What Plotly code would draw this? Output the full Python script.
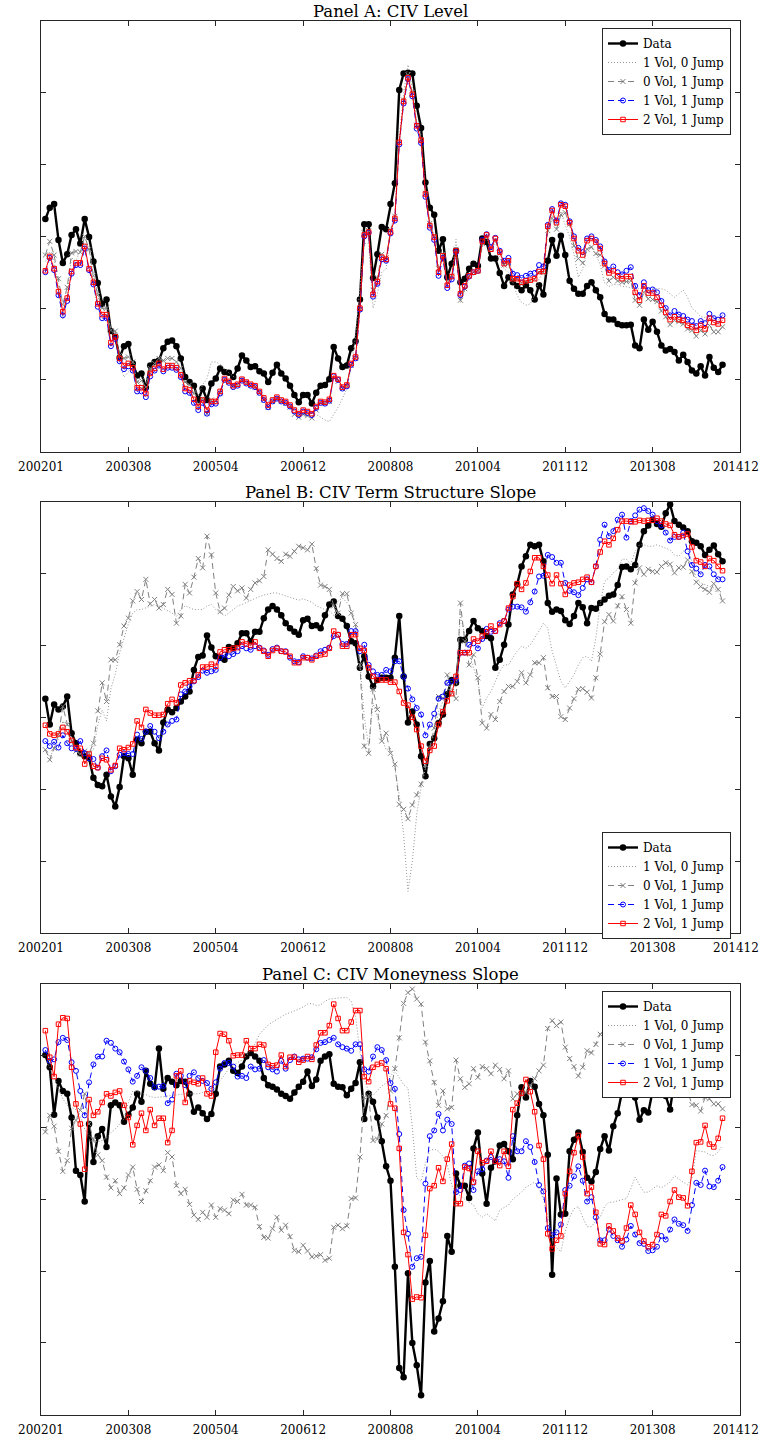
import plotly.graph_objects as go

# ---------------------------------------------------------------------------
# Monthly observations (index 1..156); y-units are arbitrary (no y labels)
# ---------------------------------------------------------------------------
tick_pos = [0, 20, 40, 60, 80, 100, 120, 140, 160]
tick_text = ["200201", "200308", "200504", "200612", "200808",
             "201004", "201112", "201308", "201412"]

series_names = ["Data", "1 Vol, 0 Jump", "0 Vol, 1 Jump", "1 Vol, 1 Jump", "2 Vol, 1 Jump"]

# ---------------- Panel A: CIV Level ----------------
A_data = [3.24, 3.40, 3.45, 2.95, 2.63, 2.75, 3.02, 3.10, 2.90, 3.24,
          2.99, 2.65, 2.35, 2.06, 2.12, 1.68, 1.60, 1.31, 1.47, 1.50,
          1.23, 1.06, 1.09, 0.89, 1.20, 1.25, 1.27, 1.44, 1.53, 1.55,
          1.47, 1.30, 1.04, 0.97, 0.92, 0.72, 0.88, 0.72, 0.95, 1.02,
          1.16, 1.11, 1.10, 1.04, 1.16, 1.34, 1.27, 1.18, 1.19, 1.12,
          1.09, 0.97, 1.10, 1.21, 1.09, 1.02, 0.92, 0.79, 0.69, 0.79,
          0.79, 0.67, 0.82, 0.92, 0.93, 1.01, 1.46, 1.30, 1.18, 1.20,
          1.44, 1.54, 2.12, 3.17, 3.17, 2.42, 2.75, 3.13, 3.10, 3.45,
          3.74, 5.04, 5.27, 5.28, 5.27, 4.82, 4.51, 3.75, 3.40, 3.30,
          2.80, 2.96, 2.43, 2.62, 2.80, 2.36, 2.41, 2.55, 2.62, 2.59,
          2.97, 2.92, 2.69, 2.69, 2.49, 2.31, 2.43, 2.36, 2.31, 2.25,
          2.32, 2.25, 2.12, 2.32, 2.19, 2.66, 2.95, 2.73, 3.01, 2.74,
          2.38, 2.27, 2.20, 2.20, 2.31, 2.36, 2.25, 2.15, 1.92, 1.84,
          1.84, 1.78, 1.76, 1.76, 1.77, 1.48, 1.44, 1.84, 1.70, 1.81,
          1.67, 1.48, 1.41, 1.43, 1.39, 1.27, 1.35, 1.25, 1.13, 1.09,
          1.19, 1.06, 1.32, 1.17, 1.11, 1.21]
A_v1j0 = [2.65, 2.78, 2.65, 2.30, 1.85, 2.22, 2.70, 2.66, 2.80, 2.89,
          2.85, 2.45, 2.20, 1.99, 1.99, 1.71, 1.64, 1.23, 1.04, 1.11,
          1.16, 0.97, 0.93, 0.97, 1.13, 1.22, 1.27, 1.25, 1.22, 1.21,
          1.16, 1.11, 0.97, 0.93, 0.88, 0.79, 0.93, 1.02, 1.25,
          1.25, 1.22, 1.15, 1.10, 1.05, 1.02, 1.03, 1.00, 0.96, 0.92,
          0.86, 0.78, 0.70, 0.74, 0.78, 0.75, 0.72, 0.68, 0.62, 0.58,
          0.60, 0.58, 0.55, 0.52, 0.48, 0.44, 0.42, 0.52, 0.62, 0.74,
          0.88, 1.20, 1.60, 2.30, 2.90, 2.90, 2.00, 2.20, 2.50, 2.55,
          3.10, 3.30, 4.35, 5.00, 5.39, 5.05, 4.60, 4.40, 3.65, 3.20,
          3.02, 2.55, 2.70, 2.30, 2.45, 2.96, 2.08, 2.25, 2.40, 2.48,
          2.50, 2.85, 2.98, 2.80, 2.92, 2.72, 2.55, 2.50, 2.36, 2.18,
          2.08, 2.04, 2.06, 2.18, 2.41, 2.50, 3.05, 3.30, 3.10, 3.35,
          3.15, 3.00, 2.75, 2.43, 2.55, 2.82, 2.86, 2.75, 2.60, 2.35,
          2.30, 2.33, 2.33, 2.30, 2.30, 2.28, 2.27, 2.27, 2.28, 2.28,
          2.28, 2.27, 2.27, 2.25, 2.20, 2.15, 2.20, 2.25, 2.15, 2.00,
          1.95, 1.88, 1.87, 1.90, 1.88, 1.84, 1.87]
A_v0j1 = [2.74, 2.93, 2.74, 2.41, 2.05, 2.29, 2.77, 2.79, 2.78, 3.00,
          2.82, 2.45, 2.18, 2.00, 2.00, 1.69, 1.68, 1.34, 1.30, 1.32,
          1.25, 0.97, 0.99, 0.90, 1.16, 1.23, 1.30, 1.27, 1.30, 1.30,
          1.25, 1.16, 0.97, 0.93, 0.81, 0.65, 0.74, 0.53, 0.72,
          0.70, 0.82, 1.00, 0.97, 0.92, 0.93, 1.00, 0.96, 0.92, 0.90,
          0.82, 0.72, 0.62, 0.70, 0.73, 0.70, 0.67, 0.62, 0.52, 0.48,
          0.52, 0.50, 0.47, 0.58, 0.68, 0.67, 0.70, 1.03, 0.98, 0.88,
          0.92, 1.20, 1.30, 1.98, 3.05, 3.08, 2.25, 2.42, 2.75, 2.70,
          3.08, 3.28, 4.30, 4.90, 5.25, 5.00, 4.55, 4.35, 3.60, 3.18,
          3.00, 2.55, 2.75, 2.36, 2.45, 2.82, 2.11, 2.27, 2.45, 2.50,
          2.52, 2.90, 3.00, 2.82, 2.95, 2.76, 2.60, 2.62, 2.40, 2.40,
          2.35, 2.37, 2.38, 2.40, 2.50, 2.50, 3.08, 3.25, 3.10, 3.30,
          3.33, 3.17, 2.87, 2.69, 2.63, 2.82, 2.85, 2.76, 2.74, 2.59,
          2.38, 2.43, 2.38, 2.36, 2.37, 2.38, 2.11, 2.04, 2.22, 2.13,
          2.12, 2.09, 1.96, 1.88, 1.77, 1.83, 1.81, 1.78, 1.71, 1.69,
          1.61, 1.69, 1.64, 1.76, 1.67, 1.67, 1.74]
A_v1j1 = [2.50, 2.70, 2.53, 2.18, 1.90, 2.10, 2.48, 2.60, 2.60, 2.83,
          2.53, 2.33, 2.02, 1.86, 1.86, 1.47, 1.57, 1.26, 1.15, 1.19,
          1.13, 0.84, 0.84, 0.76, 1.05, 1.13, 1.20, 1.12, 1.17, 1.17,
          1.14, 1.04, 0.84, 0.82, 0.68, 0.58, 0.68, 0.53, 0.66,
          0.67, 0.81, 1.00, 0.96, 0.90, 0.92, 0.99, 0.95, 0.92, 0.90,
          0.82, 0.72, 0.62, 0.70, 0.74, 0.70, 0.68, 0.63, 0.56, 0.51,
          0.56, 0.54, 0.51, 0.61, 0.68, 0.67, 0.71, 1.05, 1.00, 0.88,
          0.91, 1.21, 1.30, 1.98, 3.00, 3.05, 2.16, 2.34, 2.68, 2.66,
          3.04, 3.22, 4.28, 4.85, 5.19, 4.95, 4.50, 4.30, 3.55, 3.12,
          2.95, 2.45, 2.70, 2.28, 2.40, 2.78, 2.18, 2.30, 2.44, 2.50,
          2.52, 2.95, 3.03, 2.85, 2.98, 2.80, 2.66, 2.70, 2.48, 2.46,
          2.42, 2.45, 2.48, 2.49, 2.60, 2.58, 3.16, 3.38, 3.22, 3.46,
          3.44, 3.21, 3.00, 2.84, 2.78, 2.97, 3.00, 2.95, 2.86, 2.65,
          2.53, 2.58, 2.50, 2.47, 2.52, 2.57, 2.31, 2.18, 2.36, 2.25,
          2.26, 2.22, 2.10, 2.00, 1.90, 1.96, 1.91, 1.89, 1.84, 1.82,
          1.75, 1.82, 1.79, 1.92, 1.86, 1.84, 1.90]
A_v2j1 = [2.52, 2.72, 2.55, 2.23, 1.95, 2.14, 2.51, 2.63, 2.63, 2.86,
          2.55, 2.36, 2.06, 1.91, 1.91, 1.52, 1.60, 1.30, 1.20, 1.23,
          1.17, 0.89, 0.89, 0.81, 1.09, 1.16, 1.23, 1.15, 1.20, 1.20,
          1.17, 1.07, 0.88, 0.86, 0.73, 0.63, 0.72, 0.58, 0.70, 0.70,
          0.84, 1.02, 0.98, 0.92, 0.94, 1.01, 0.97, 0.94, 0.92, 0.84,
          0.75, 0.65, 0.72, 0.76, 0.72, 0.70, 0.65, 0.58, 0.53, 0.58,
          0.56, 0.53, 0.63, 0.70, 0.69, 0.73, 1.06, 1.01, 0.90, 0.93,
          1.23, 1.32, 2.00, 3.02, 3.06, 2.19, 2.37, 2.71, 2.68, 3.06,
          3.25, 4.31, 4.88, 5.21, 4.98, 4.54, 4.34, 3.59, 3.15, 2.99,
          2.50, 2.73, 2.32, 2.44, 2.80, 2.20, 2.31, 2.45, 2.50, 2.52,
          2.93, 3.02, 2.82, 2.97, 2.78, 2.62, 2.66, 2.41, 2.41, 2.36,
          2.38, 2.39, 2.41, 2.51, 2.51, 3.14, 3.36, 3.19, 3.44, 3.42,
          3.19, 2.97, 2.80, 2.74, 2.94, 2.97, 2.92, 2.83, 2.62, 2.49,
          2.52, 2.45, 2.41, 2.44, 2.44, 2.22, 2.11, 2.31, 2.21, 2.21,
          2.15, 2.04, 1.94, 1.84, 1.88, 1.84, 1.83, 1.76, 1.74, 1.69,
          1.76, 1.71, 1.86, 1.80, 1.78, 1.83]

# ---------------- Panel B: CIV Term Structure Slope ----------------
B_data = [3.26, 2.90, 3.18, 3.11, 3.15, 3.29, 2.78, 2.64, 2.50, 2.46,
          2.43, 2.16, 2.06, 2.04, 2.20, 1.90, 1.76, 2.03, 2.46, 2.43,
          2.20, 2.69, 2.64, 2.80, 2.80, 2.64, 2.54, 2.93, 3.11, 3.07,
          3.13, 3.22, 3.29, 3.36, 3.66, 3.84, 3.86, 4.14, 3.97,
          3.85, 3.83, 3.80, 3.98, 3.96, 4.03, 4.17, 4.17, 4.06, 4.19,
          4.19, 4.38, 4.50, 4.55, 4.50, 4.42, 4.31, 4.24, 4.19, 4.15,
          4.35, 4.37, 4.27, 4.28, 4.24, 4.42, 4.57, 4.61, 4.41, 4.37,
          4.27, 4.06, 4.03, 3.69, 3.85, 3.57, 3.43, 3.52, 3.55, 3.55,
          3.55, 3.83, 4.41, 3.57, 2.93, 3.08, 2.90, 2.46, 2.18, 2.63,
          2.71, 2.92, 3.04, 3.32, 3.52, 3.48, 4.08, 4.08, 4.20, 4.34,
          4.24, 4.20, 4.13, 4.10, 3.69, 3.80, 4.01, 4.29, 4.71, 4.85,
          5.10, 5.24, 5.40, 5.38, 5.40, 5.17, 4.59, 4.47, 4.50, 4.48,
          4.35, 4.30, 4.41, 4.59, 4.53, 4.31, 4.52, 4.51, 4.59, 4.64,
          4.69, 4.71, 4.84, 5.09, 5.10, 5.06, 5.12, 5.40, 5.59, 5.67,
          5.75, 5.69, 5.65, 5.84, 5.96, 5.73, 5.68, 5.64, 5.59, 5.45,
          5.43, 5.38, 5.26, 5.33, 5.39, 5.27, 5.17]
B_v1j0 = [2.55, 2.45, 2.55, 2.70, 2.95, 2.80, 2.65, 2.55, 2.50, 2.50,
          2.50, 2.55, 2.90, 3.10, 2.95, 3.40, 3.60, 3.90, 4.10, 4.30,
          4.45, 4.50, 4.50, 4.52, 4.55, 4.57, 4.55, 4.52, 4.48, 4.45,
          4.40, 4.50, 4.55, 4.53, 4.50, 4.50, 4.50, 4.55, 4.57,
          4.50, 4.45, 4.41, 4.45, 4.50, 4.55, 4.57, 4.60, 4.63, 4.66,
          4.68, 4.70, 4.72, 4.73, 4.73, 4.71, 4.69, 4.66, 4.64, 4.63,
          4.65, 4.62, 4.60, 4.55, 4.52, 4.50, 4.48, 4.42, 4.62, 4.66,
          4.60, 4.50, 4.30, 3.75, 3.00, 2.60, 3.20, 3.00, 2.70, 2.55,
          2.57, 2.29, 1.92, 1.37, 0.58, 1.00, 1.65, 2.02, 2.29, 2.62,
          2.76, 3.08, 3.22, 3.36, 3.50, 3.41, 4.43, 4.15, 3.87, 3.69,
          3.50, 3.13, 3.27, 3.36, 3.50, 3.64, 3.73, 3.73, 3.83, 3.92,
          3.99, 3.96, 4.01, 4.10, 4.20, 4.31, 4.24, 3.92, 3.69, 3.50,
          3.41, 3.50, 3.59, 3.73, 3.83, 3.85, 3.78, 4.10, 4.57, 4.89,
          4.94, 5.01, 5.06, 5.20, 5.20, 5.13, 5.31, 5.40, 5.40, 5.38,
          5.38, 5.40, 5.38, 5.36, 5.33, 5.26, 5.24, 5.31, 5.36, 5.17,
          4.92, 4.87, 4.85, 4.82, 4.80, 4.75, 4.71]
B_v0j1 = [2.55, 2.41, 2.57, 2.76, 3.15, 2.90, 2.67, 2.53, 2.49, 2.53,
          2.50, 2.64, 3.09, 3.48, 3.22, 3.80, 3.80, 4.01, 4.27, 4.38,
          4.62, 4.75, 4.64, 4.92, 4.58, 4.64, 4.52, 4.57, 4.78, 4.71,
          4.31, 4.41, 4.85, 4.73, 4.95, 5.21, 5.08, 5.52, 5.26,
          4.73, 4.47, 4.52, 4.70, 4.82, 4.76, 4.80, 4.66, 4.78, 4.87,
          4.90, 4.96, 5.33, 5.27, 5.21, 5.17, 5.27, 5.24, 5.31, 5.38,
          5.36, 5.33, 5.41, 5.07, 4.84, 4.82, 4.78, 4.55, 4.45, 4.72,
          4.72, 4.45, 4.29, 3.73, 2.60, 2.50, 3.39, 3.11, 2.67, 2.78,
          2.50, 2.35, 1.79, 1.72, 1.59, 1.78, 1.92, 2.07, 2.34, 2.57,
          2.85, 3.29, 3.27, 3.59, 3.36, 3.26, 4.59, 4.06, 3.73, 3.87,
          3.55, 2.92, 2.85, 3.04, 2.97, 3.22, 3.36, 3.43, 3.43, 3.50,
          3.62, 3.48, 3.59, 3.76, 3.76, 3.83, 3.41, 3.29, 3.29, 3.01,
          2.97, 3.13, 3.26, 3.39, 3.40, 3.35, 3.27, 3.55, 3.88, 4.33,
          4.43, 4.34, 4.55, 4.68, 4.50, 4.31, 4.87, 5.08, 4.99, 5.06,
          5.03, 5.02, 5.10, 5.15, 5.13, 5.01, 5.08, 5.09, 5.19, 5.03,
          4.88, 4.82, 4.78, 4.74, 4.86, 4.78, 4.62]
B_v1j1 = [2.67, 2.60, 2.66, 2.58, 2.75, 2.64, 2.57, 2.56, 2.67, 2.50,
          2.43, 2.42, 2.30, 2.46, 2.54, 2.25, 2.32, 2.48, 2.50, 2.49,
          2.49, 2.76, 2.70, 2.80, 2.88, 2.80, 2.71, 2.80, 2.90, 2.95,
          2.97, 3.32, 3.36, 3.43, 3.50, 3.56, 3.65, 3.62, 3.64,
          3.66, 3.83, 3.87, 3.85, 3.88, 3.92, 3.99, 3.96, 3.94, 3.99,
          3.97, 3.93, 3.87, 3.95, 3.97, 3.92, 3.92, 3.83, 3.78, 3.77,
          3.85, 3.83, 3.82, 3.86, 3.92, 3.94, 3.97, 4.13, 4.15, 4.02,
          4.02, 4.20, 4.20, 3.92, 4.01, 3.73, 3.64, 3.59, 3.59, 3.66,
          3.64, 3.78, 3.78, 3.57, 3.40, 3.25, 3.13, 3.04, 2.75, 2.90,
          3.05, 3.26, 3.29, 3.48, 3.50, 3.52, 3.90, 3.90, 4.01, 4.03,
          3.96, 4.09, 4.23, 4.19, 4.20, 4.31, 4.34, 4.50, 4.54, 4.54,
          4.53, 4.47, 4.60, 4.75, 4.96, 4.97, 5.26, 5.23, 5.15, 5.15,
          4.87, 4.76, 4.74, 4.70, 4.80, 4.92, 4.88, 5.10, 5.47, 5.68,
          5.52, 5.59, 5.75, 5.82, 5.50, 5.73, 5.81, 5.89, 5.91, 5.87,
          5.82, 5.73, 5.67, 5.57, 5.46, 5.51, 5.51, 5.57, 5.31, 5.12,
          5.07, 4.99, 5.12, 5.10, 4.99, 4.92, 4.92]
B_v2j1 = [2.89, 2.77, 2.75, 2.77, 2.86, 2.80, 2.68, 2.58, 2.57, 2.35,
          2.49, 2.32, 2.30, 2.43, 2.41, 2.27, 2.33, 2.57, 2.55, 2.58,
          2.63, 2.95, 2.86, 3.11, 3.06, 3.03, 3.03, 3.04, 3.19, 3.25,
          3.20, 3.45, 3.48, 3.51, 3.51, 3.59, 3.70, 3.70, 3.74,
          3.71, 3.91, 3.94, 3.94, 3.96, 3.97, 4.05, 4.02, 4.00, 4.05,
          3.96, 3.92, 3.85, 3.93, 3.96, 3.92, 3.91, 3.85, 3.76, 3.76,
          3.83, 3.83, 3.80, 3.85, 3.87, 3.88, 3.96, 4.20, 4.15, 3.99,
          3.99, 4.15, 4.15, 3.96, 3.93, 3.69, 3.57, 3.52, 3.52, 3.52,
          3.49, 3.49, 3.36, 3.20, 3.17, 3.00, 2.83, 2.60, 2.39, 2.54,
          2.60, 2.90, 3.08, 3.23, 3.33, 3.57, 3.90, 3.90, 3.90, 4.09,
          4.06, 4.13, 4.19, 4.27, 4.20, 4.29, 4.34, 4.52, 4.68, 4.86,
          4.78, 4.87, 5.03, 5.22, 5.22, 5.10, 4.98, 4.86, 4.98, 4.86,
          4.71, 4.84, 4.87, 4.88, 4.92, 4.95, 4.88, 5.10, 5.30, 5.45,
          5.40, 5.49, 5.61, 5.73, 5.73, 5.72, 5.72, 5.74, 5.73, 5.74,
          5.74, 5.77, 5.73, 5.69, 5.67, 5.54, 5.51, 5.53, 5.55, 5.37,
          5.18, 5.16, 5.10, 5.21, 5.18, 5.10, 5.04]

# ---------------- Panel C: CIV Moneyness Slope ----------------
C_data = [5.01, 4.84, 4.18, 4.65, 4.51, 4.47, 4.14, 3.40, 3.34, 2.97,
          4.05, 3.52, 3.88, 3.98, 3.73, 4.31, 4.35, 4.31, 4.08, 4.18,
          4.28, 4.47, 4.36, 4.79, 4.61, 4.56, 5.10, 4.54, 4.69, 4.64,
          4.59, 4.65, 4.64, 4.47, 4.22, 4.28, 4.20, 4.12, 4.19,
          4.47, 4.85, 4.88, 4.93, 4.79, 4.76, 4.85, 4.99, 5.04, 4.99,
          4.93, 4.69, 4.59, 4.57, 4.53, 4.47, 4.44, 4.40, 4.49, 4.57,
          4.64, 4.78, 4.58, 4.67, 4.93, 4.99, 5.02, 4.61, 4.57, 4.56,
          4.45, 4.54, 4.62, 4.91, 4.12, 4.47, 4.36, 4.14, 3.81, 3.46,
          3.26, 2.06, 0.65, 0.52, 1.97, 1.00, 0.69, 0.27, 1.84, 2.14,
          1.16, 1.34, 1.58, 2.49, 2.27, 3.36, 3.19, 3.19, 3.02, 3.71,
          3.93, 3.36, 2.94, 3.44, 3.53, 3.75, 3.77, 3.67, 3.56, 4.17,
          4.56, 4.42, 4.65, 4.57, 4.33, 4.17, 3.62, 1.95, 3.29, 2.79,
          2.80, 3.67, 3.83, 3.93, 3.66, 3.30, 3.25, 3.38, 3.70, 3.88,
          3.68, 4.02, 4.20, 4.50, 4.59, 4.56, 4.42, 4.11, 4.24, 4.21,
          4.51, 4.63, 4.49, 4.44, 4.25, 4.68, 4.86, 4.95, 5.00, 4.91,
          4.86, 4.77, 4.68, 4.61, 4.51, 4.72, 4.81]
C_v1j0 = [4.95, 4.84, 4.70, 4.55, 4.40, 4.31, 4.28, 4.25, 4.15, 3.98,
          3.89, 3.82, 3.80, 3.82, 3.86, 3.93, 3.98, 4.05, 4.12, 4.35,
          4.51, 4.50, 4.49, 4.46, 4.43, 4.42, 4.42, 4.43, 4.44, 4.45,
          4.46, 4.47, 4.47, 4.47, 4.47, 4.47, 4.49, 4.52, 4.54,
          4.58, 4.65, 4.74, 4.82, 4.87, 4.91, 4.94, 5.00, 5.08, 5.17,
          5.30, 5.37, 5.43, 5.47, 5.51, 5.55, 5.58, 5.60, 5.62, 5.65,
          5.68, 5.72, 5.73, 5.70, 5.71, 5.76, 5.79, 5.80, 5.81, 5.81,
          5.81, 5.76, 5.55, 5.05, 4.68, 4.50, 4.45, 4.52, 4.58, 4.62,
          4.72, 4.78, 4.70, 4.60, 4.55, 4.00, 3.30, 3.25, 3.50, 3.68,
          3.70, 3.67, 3.60, 3.48, 3.20, 3.08, 3.05, 3.00, 2.96, 2.92,
          2.80, 2.75, 2.80, 2.75, 2.70, 2.85, 2.88, 2.92, 3.00, 3.05,
          3.10, 3.17, 3.21, 3.24, 3.15, 3.00, 2.78, 2.45, 2.33, 2.27,
          2.55, 2.75, 2.87, 2.90, 2.75, 2.62, 2.62, 2.70, 2.75, 2.90,
          2.96, 2.96, 2.98, 3.00, 3.01, 3.15, 3.31, 3.20, 3.10, 3.10,
          3.15, 3.19, 3.16, 3.20, 3.24, 3.33, 3.28, 3.24, 3.20, 3.30,
          3.68, 3.67, 3.66, 3.62, 3.61, 3.66, 3.75]
C_v0j1 = [3.94, 4.17, 4.02, 3.67, 3.39, 3.54, 3.99, 4.10, 4.24, 4.47,
          4.05, 3.84, 3.62, 3.54, 3.31, 3.16, 3.26, 3.08, 3.16, 3.34,
          3.45, 3.14, 2.97, 3.12, 3.26, 3.45, 3.48, 3.40, 3.65, 3.59,
          3.19, 3.08, 3.14, 2.93, 2.78, 2.72, 2.82, 2.75, 2.92,
          2.75, 2.87, 2.85, 2.80, 2.99, 2.97, 3.07, 2.92, 2.92, 2.89,
          2.62, 2.47, 2.46, 2.59, 2.75, 2.57, 2.64, 2.48, 2.29, 2.27,
          2.36, 2.28, 2.20, 2.21, 2.23, 2.15, 2.18, 2.61, 2.64, 2.59,
          2.63, 3.01, 3.02, 3.59, 4.42, 4.44, 3.82, 3.84, 4.05, 4.17,
          4.51, 4.82, 5.25, 5.73, 5.88, 5.93, 5.79, 5.72, 5.19, 4.93,
          4.63, 4.31, 4.51, 4.26, 4.28, 4.94, 4.68, 4.56, 4.61, 4.82,
          4.70, 4.85, 4.82, 4.75, 4.87, 4.81, 4.68, 4.79, 4.40, 4.47,
          4.47, 4.49, 4.58, 4.68, 4.79, 4.87, 5.38, 5.49, 5.42, 5.47,
          5.12, 4.96, 4.85, 4.72, 4.84, 5.07, 5.04, 5.16, 5.30, 5.35,
          5.40, 5.30, 5.35, 5.45, 5.40, 5.30, 5.25, 5.30, 5.20, 5.15,
          5.20, 5.10, 5.05, 5.00, 4.95, 4.90, 4.85, 4.70, 4.51, 4.32,
          4.31, 4.23, 4.42, 4.40, 4.33, 4.33, 4.26]
C_v1j1 = [5.08, 4.93, 4.95, 5.19, 5.25, 5.22, 4.91, 4.79, 4.51, 4.17,
          4.63, 4.88, 4.99, 4.99, 5.21, 5.18, 5.10, 5.05, 4.92, 4.81,
          4.64, 4.72, 4.84, 4.79, 4.69, 4.56, 4.57, 4.58, 4.34, 4.39,
          4.75, 4.72, 4.59, 4.72, 4.77, 4.69, 4.65, 4.62, 4.54,
          4.63, 4.82, 4.90, 4.90, 4.85, 4.71, 4.72, 4.69, 4.85, 4.81,
          4.82, 4.94, 4.84, 4.81, 4.78, 4.93, 4.82, 4.94, 4.99, 4.95,
          4.96, 4.96, 4.98, 5.09, 5.18, 5.19, 5.22, 5.25, 5.16, 5.12,
          5.10, 5.07, 5.16, 5.16, 4.81, 4.78, 4.99, 5.12, 5.08, 4.94,
          4.62, 4.54, 3.91, 2.85, 2.52, 2.06, 2.18, 2.20, 3.22, 3.88,
          3.96, 4.19, 3.96, 4.11, 4.05, 3.10, 3.13, 3.47, 3.50, 3.13,
          3.39, 3.42, 3.54, 3.59, 3.53, 3.56, 3.53, 3.30, 3.88, 3.67,
          3.67, 3.81, 3.73, 3.52, 3.20, 3.11, 2.60, 2.50, 2.54, 2.65,
          3.13, 3.19, 3.32, 3.46, 3.26, 2.97, 3.03, 2.75, 2.43, 2.43,
          2.58, 2.49, 2.43, 2.34, 2.44, 2.63, 2.51, 2.39, 2.38, 2.28,
          2.29, 2.34, 2.49, 2.44, 2.58, 2.72, 2.66, 2.64, 2.56, 2.92,
          3.23, 3.20, 3.40, 3.18, 3.17, 3.26, 3.45]
C_v2j1 = [5.35, 4.98, 4.71, 5.44, 5.53, 5.52, 4.84, 4.33, 4.05, 3.42,
          4.39, 4.17, 4.22, 4.35, 4.47, 4.44, 4.49, 4.51, 4.31, 4.14,
          3.76, 4.03, 4.20, 3.96, 4.25, 4.03, 4.13, 4.13, 3.79, 3.96,
          4.72, 4.79, 4.35, 4.65, 4.63, 4.61, 4.69, 4.47, 4.44,
          5.05, 5.31, 5.30, 5.21, 5.00, 5.01, 5.01, 5.21, 5.10, 5.10,
          5.16, 5.15, 4.88, 4.86, 4.87, 5.01, 4.85, 4.98, 4.98, 4.91,
          4.94, 4.99, 4.95, 5.15, 5.32, 5.32, 5.42, 5.72, 5.52, 5.35,
          5.35, 5.47, 5.63, 5.63, 4.71, 4.64, 4.84, 4.88, 4.90, 4.82,
          4.33, 4.27, 3.71, 2.54, 2.23, 1.61, 1.64, 1.63, 2.50, 3.15,
          3.19, 3.44, 3.25, 3.56, 3.77, 2.94, 2.94, 3.45, 3.43, 3.24,
          3.67, 3.51, 3.53, 3.67, 3.53, 3.47, 3.67, 3.46, 4.25, 4.34,
          4.48, 4.67, 4.50, 4.22, 3.75, 3.56, 2.52, 2.31, 2.43, 2.49,
          3.08, 3.39, 3.65, 3.89, 3.59, 3.08, 3.17, 2.82, 2.38, 2.37,
          2.63, 2.56, 2.46, 2.42, 2.60, 2.92, 2.79, 2.54, 2.42, 2.34,
          2.37, 2.51, 2.79, 2.77, 2.97, 3.13, 3.03, 3.02, 2.91, 3.39,
          3.79, 3.80, 4.03, 3.77, 3.73, 3.85, 4.13]

panels = [
    ("Panel A: CIV Level", [A_data, A_v1j0, A_v0j1, A_v1j1, A_v2j1]),
    ("Panel B: CIV Term Structure Slope", [B_data, B_v1j0, B_v0j1, B_v1j1, B_v2j1]),
    ("Panel C: CIV Moneyness Slope", [C_data, C_v1j0, C_v0j1, C_v1j1, C_v2j1]),
]

# ---------------------------------------------------------------------------
# Styling
# ---------------------------------------------------------------------------
W, H = 761, 1442
FONT = "DejaVu Serif"
AXIS_COL = "#262626"
GRAY = "rgb(128,128,128)"
LIGHT = "rgb(150,150,150)"
TICK_SIZE = 12

styles = [
    dict(mode="lines+markers", line=dict(color="black", width=2.4),
         marker=dict(symbol="circle", size=6.5, color="black")),
    dict(mode="lines", line=dict(color=LIGHT, width=1, dash="1px,2px")),
    dict(mode="lines+markers", line=dict(color=GRAY, width=1, dash="6px,4px"),
         marker=dict(symbol="x-thin-open", size=5, color=GRAY, line=dict(color=GRAY, width=1))),
    dict(mode="lines+markers", line=dict(color="blue", width=1, dash="6px,4px"),
         marker=dict(symbol="circle-open", size=5, color="blue", line=dict(color="blue", width=1))),
    dict(mode="lines+markers", line=dict(color="red", width=1),
         marker=dict(symbol="square-open", size=4.5, color="red", line=dict(color="red", width=1))),
]

# plot-area boxes in pixels: (left, right, top, bottom)
boxes = [(41, 740, 21, 451.7), (41, 740, 501.7, 933), (41, 740, 984, 1414.7)]
# legend top-left corners in pixels
legend_pos = [(602, 28), (602, 832), (602, 991)]

# the last tick label sits on the right border; it is drawn as a separate
# text nudged inward so that it stays inside the page
axis_ticktext = tick_text[:-1] + [""]

fig = go.Figure()
annotations = []
layout = {}

for p, (title, series) in enumerate(panels):
    sfx = "" if p == 0 else str(p + 1)
    xa, ya = "x" + sfx, "y" + sfx
    leg = "legend" + sfx
    x_idx = list(range(1, len(series[0]) + 1))
    for name, vals, st in zip(series_names, series, styles):
        fig.add_trace(go.Scatter(x=x_idx, y=vals, name=name, xaxis=xa, yaxis=ya,
                                 legend=leg, showlegend=True, **st))
    l, r, t, b = boxes[p]
    layout["xaxis" + sfx] = dict(
        domain=[l / W, r / W], anchor=ya, range=[0, 160], automargin=False,
        tickmode="array", tickvals=tick_pos, ticktext=axis_ticktext,
        ticks="inside", ticklen=5, tickcolor=AXIS_COL, tickwidth=1,
        showline=True, linecolor=AXIS_COL, linewidth=1, mirror="ticks",
        showgrid=False, zeroline=False, ticklabeloverflow="allow",
        ticklabelstandoff=4,
        tickfont=dict(family=FONT, size=TICK_SIZE, color="black"))
    layout["yaxis" + sfx] = dict(
        domain=[1 - b / H, 1 - t / H], anchor=xa, range=[0, 6], automargin=False,
        tickmode="array", tickvals=[1, 2, 3, 4, 5], showticklabels=False,
        ticks="inside", ticklen=5, tickcolor=AXIS_COL, tickwidth=1,
        showline=True, linecolor=AXIS_COL, linewidth=1, mirror="ticks",
        showgrid=False, zeroline=False)
    lx, ly = legend_pos[p]
    layout[leg] = dict(
        x=lx / W, y=1 - ly / H, xanchor="left", yanchor="top",
        bgcolor="white", bordercolor=AXIS_COL, borderwidth=1,
        font=dict(family=FONT, size=12, color="black"),
        itemwidth=30, tracegroupgap=0)
    annotations.append(dict(
        text=title, x=(l + r) / 2 / W, y=1 - t / H, xref="paper", yref="paper",
        xanchor="center", yanchor="bottom", showarrow=False, yshift=-2,
        font=dict(family=FONT, size=16.5, color="black")))
    annotations.append(dict(
        text=tick_text[-1], x=1, y=1 - b / H, xref="paper", yref="paper",
        xanchor="right", yanchor="top", showarrow=False, yshift=-7, xshift=-1,
        borderpad=0, font=dict(family=FONT, size=TICK_SIZE, color="black")))

fig.update_layout(
    width=W, height=H, margin=dict(l=0, r=0, t=0, b=0),
    paper_bgcolor="white", plot_bgcolor="white",
    annotations=annotations, **layout)

fig.write_html("out.html")
